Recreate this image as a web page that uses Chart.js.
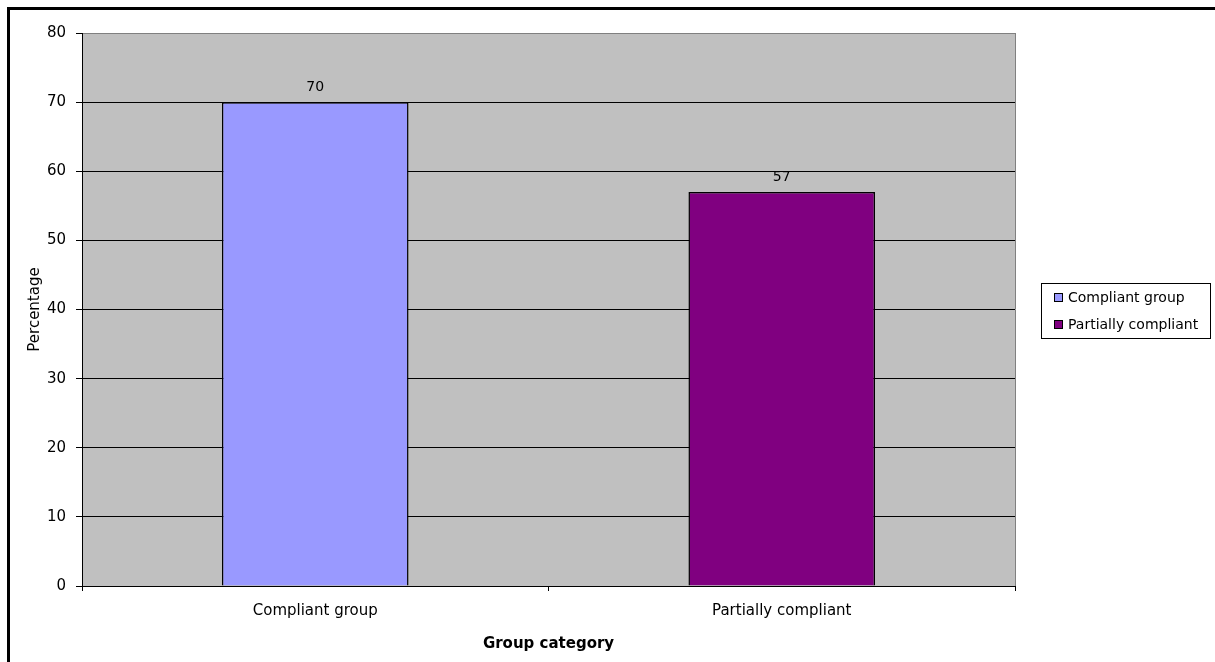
<!DOCTYPE html>
<html>
<head>
<meta charset="utf-8">
<script src="https://cdn.jsdelivr.net/npm/chart.js@4/dist/chart.umd.min.js"></script>
<style>
  html, body { margin: 0; padding: 0; background: #fff; }
  #wrap { position: relative; width: 1215px; height: 662px; overflow: hidden; }
  #frameTop { position: absolute; left: 7px; top: 7px; width: 1208px; height: 3px; background: #000; }
  #frameLeft { position: absolute; left: 7px; top: 7px; width: 3px; height: 655px; background: #000; }
  canvas { position: absolute; left: 0; top: 0; }
</style>
</head>
<body>
<div id="wrap">
  <canvas id="groupChart" width="1215" height="662"></canvas>
  <div id="frameTop"></div>
  <div id="frameLeft"></div>
</div>
<script>
// chart data
const categories = ['Compliant group', 'Partially compliant'];
const percentages = [70, 57];
const barColors = ['#9999FF', '#800080'];
const yTicks = [0, 10, 20, 30, 40, 50, 60, 70, 80];

const FONT = "'DejaVu Sans', sans-serif";

// gray plot area + right edge
const plotArea = {
    id: 'plotArea',
    beforeDraw(chart) {
        const { ctx, chartArea: a } = chart;
        ctx.save();
        ctx.fillStyle = '#C0C0C0';
        ctx.fillRect(a.left, a.top, a.right - a.left, a.bottom - a.top);
        ctx.restore();
    },
    afterDraw(chart) {
        const { ctx, chartArea: a } = chart;
        ctx.save();
        ctx.strokeStyle = '#808080';
        ctx.lineWidth = 1;
        ctx.beginPath();
        ctx.moveTo(a.right + 0.5, a.top);
        ctx.lineTo(a.right + 0.5, a.bottom);
        ctx.stroke();
        ctx.restore();
    }
};

// numbers above the bars
const barValues = {
    id: 'barValues',
    afterDatasetsDraw(chart) {
        const { ctx } = chart;
        const meta = chart.getDatasetMeta(0);
        ctx.save();
        ctx.font = '14px ' + FONT;
        ctx.fillStyle = '#000';
        ctx.textAlign = 'center';
        ctx.textBaseline = 'middle';
        meta.data.forEach((bar, i) => {
            ctx.fillText(String(chart.data.datasets[0].data[i]), bar.x, bar.y - 15);
        });
        ctx.restore();
    }
};

// boxed legend on the right, one entry per category
const boxLegend = {
    id: 'boxLegend',
    afterDraw(chart) {
        const { ctx, chartArea: a } = chart;
        const labels = chart.data.labels;
        const colors = chart.data.datasets[0].backgroundColor;
        const left = a.right + 26, top = 283, w = 169, h = 55;
        ctx.save();
        ctx.strokeStyle = '#000';
        ctx.lineWidth = 1;
        ctx.strokeRect(left + 0.5, top + 0.5, w, h);
        ctx.font = '14px ' + FONT;
        ctx.textBaseline = 'middle';
        labels.forEach((label, i) => {
            const cy = top + 14 + i * 27;
            ctx.fillStyle = colors[i];
            ctx.fillRect(left + 13, cy - 4, 9, 9);
            ctx.strokeRect(left + 13.5, cy - 3.5, 8, 8);
            ctx.fillStyle = '#000';
            ctx.fillText(label, left + 27, cy + 1);
        });
        ctx.restore();
    }
};

new Chart(document.getElementById('groupChart'), {
    type: 'bar',
    data: {
        labels: categories,
        datasets: [{
            label: 'Percentage',
            data: percentages,
            backgroundColor: barColors,
            borderColor: '#000',
            borderWidth: 1.5,
            barPercentage: 0.4,
            categoryPercentage: 1.0
        }]
    },
    options: {
        responsive: false,
        animation: false,
        layout: { padding: { top: 33, right: 200, left: 0, bottom: 0 } },
        plugins: {
            legend: { display: false },
            tooltip: { enabled: false }
        },
        scales: {
            x: {
                offset: true,
                grid: {
                    offset: true,
                    drawOnChartArea: false,
                    drawTicks: true,
                    tickLength: 5,
                    color: '#000'
                },
                border: { color: '#000', width: 1 },
                ticks: {
                    color: '#000',
                    padding: 11,
                    maxRotation: 0,
                    font: { family: FONT, size: 15 }
                },
                title: {
                    display: true,
                    text: 'Group category',
                    color: '#000',
                    padding: { top: 0, bottom: 9 },
                    font: { family: FONT, size: 15, weight: 'bold' }
                },
                afterFit(scale) { scale.height = 76; }
            },
            y: {
                min: 0,
                max: 80,
                afterBuildTicks(scale) {
                    scale.ticks = yTicks.map(v => ({ value: v }));
                },
                grid: {
                    color: ctx => (ctx.tick && ctx.tick.value === 80) ? '#808080' : '#000',
                    tickColor: '#000',
                    tickLength: 6,
                    lineWidth: 1
                },
                border: { color: '#000', width: 1 },
                ticks: {
                    color: '#000',
                    padding: 10,
                    font: { family: FONT, size: 15 }
                },
                title: {
                    display: true,
                    text: 'Percentage',
                    color: '#000',
                    padding: { top: 26, bottom: 0 },
                    font: { family: FONT, size: 15 }
                },
                afterFit(scale) { scale.width = 82; }
            }
        }
    },
    plugins: [plotArea, barValues, boxLegend]
});
</script>
</body>
</html>
